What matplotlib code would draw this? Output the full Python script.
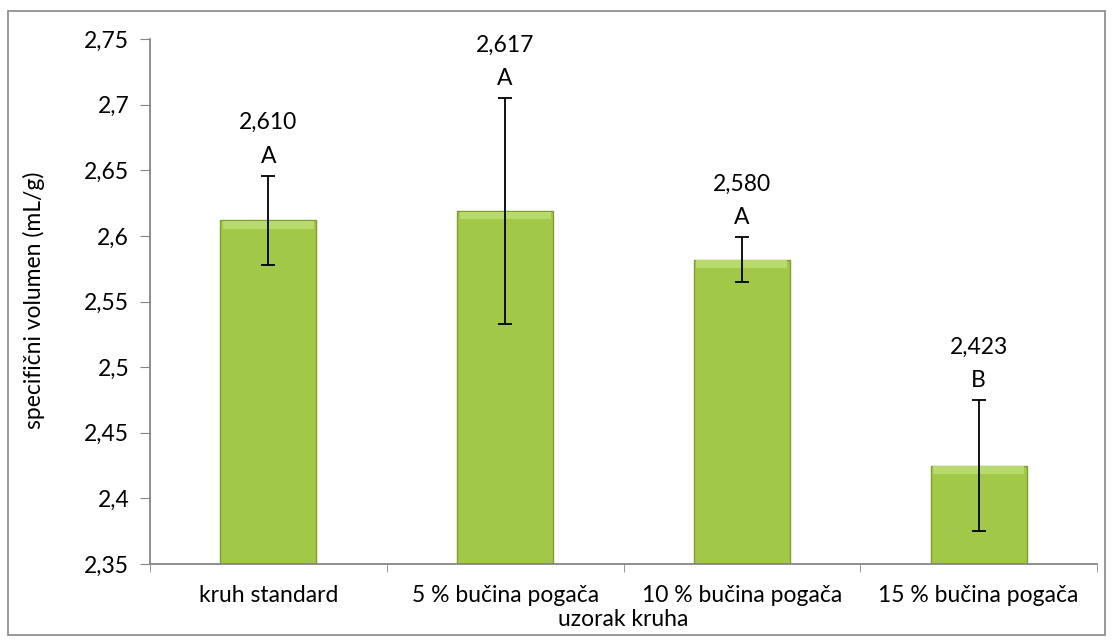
import matplotlib.pyplot as plt
import numpy as np
from matplotlib.patches import Rectangle
from matplotlib.ticker import FuncFormatter, FixedLocator

# podaci
uzorci = ['kruh standard', '5 % bučina pogača', '10 % bučina pogača', '15 % bučina pogača']
volumen = [2.612, 2.619, 2.582, 2.425]
greska = [0.034, 0.086, 0.017, 0.05]
oznake_vrijednost = ['2,610', '2,617', '2,580', '2,423']
oznake_slovo = ['A', 'A', 'A', 'B']

plt.rcParams['font.family'] = ['Lato', 'DejaVu Sans']
fs = 16.5

fig = plt.figure(figsize=(11.14, 6.42), dpi=100)
ax = fig.add_axes([150/1114, 1-564/642, (1097-150)/1114, (564-39)/642])

x = np.arange(len(uzorci))
sirina = 0.405
dno = 2.35
ax.bar(x, np.array(volumen)-dno, bottom=dno, width=sirina, color='#a1c846',
       edgecolor='#7e9e2e', linewidth=1.0, zorder=2)
# svijetli gornji rub (bevel)
ax.bar(x, 0.006, bottom=np.array(volumen)-0.0065, width=sirina*0.95, color='#b8da6c',
       linewidth=0, zorder=3)
ax.errorbar(x, volumen, yerr=greska, fmt='none', ecolor='black', elinewidth=1.3,
            capsize=5, capthick=1.3, zorder=4)

for i in range(len(uzorci)):
    vrh = volumen[i] + greska[i]
    ax.annotate(oznake_slovo[i], (x[i], vrh), xytext=(0, 14), textcoords='offset points',
                ha='center', va='center', fontsize=fs)
    ax.annotate(oznake_vrijednost[i], (x[i], vrh), xytext=(0, 38), textcoords='offset points',
                ha='center', va='center', fontsize=fs)

ax.set_ylim(2.35, 2.75)
ax.set_xlim(-0.5, 3.5)
ax.set_yticks(np.arange(2.35, 2.751, 0.05))
ax.yaxis.set_major_formatter(FuncFormatter(lambda v, p: ('%g' % round(v, 2)).replace('.', ',')))
ax.set_xticks(x)
ax.set_xticklabels(uzorci)
ax.xaxis.set_minor_locator(FixedLocator([-0.5, 0.5, 1.5, 2.5, 3.5]))
ax.tick_params(axis='x', which='major', length=0, pad=15, labelsize=fs)
ax.tick_params(axis='x', which='minor', length=6, color='#868686', direction='out')
ax.tick_params(axis='y', length=7, color='#868686', pad=8, labelsize=fs)

for s in ['top', 'right']:
    ax.spines[s].set_visible(False)
for s in ['left', 'bottom']:
    ax.spines[s].set_color('#868686')
    ax.spines[s].set_linewidth(1.3)

# naslovi osi
fig.text(34/1114, 1-300/642, 'specifični volumen (mL/g)', rotation=90, ha='center', va='center', fontsize=fs)
fig.text(623/1114, 1-619/642, 'uzorak kruha', ha='center', va='center', fontsize=fs)

fig.add_artist(Rectangle((8/1114, 1-635/642), (1105-8)/1114, (635-11)/642,
                         transform=fig.transFigure, fill=False, edgecolor='#868686', linewidth=1.2))

fig.savefig('out.png', dpi=100)
